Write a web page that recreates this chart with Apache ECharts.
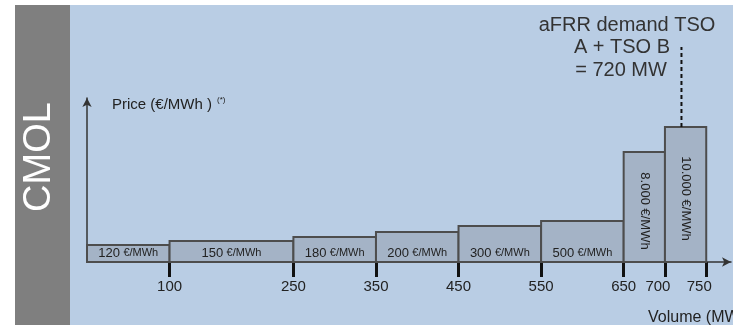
<!DOCTYPE html>
<html>
<head>
<meta charset="utf-8">
<script src="https://cdn.jsdelivr.net/npm/echarts@6/dist/echarts.min.js"></script>
<style>
html,body{margin:0;padding:0;background:#fff;}
#c{width:733px;height:325px;}
</style>
</head>
<body>
<div id="c"></div>
<script>
// ---- data ----
const volumeEdges = [0, 100, 250, 350, 450, 550, 650, 700, 750];   // MW
const priceLabels = ['120', '150', '180', '200', '300', '500', '8.000', '10.000']; // €/MWh
const barHeights = [17, 21, 25, 30, 36, 41, 110, 135];               // schematic heights
const tickValues = [100, 250, 350, 450, 550, 650, 700, 750];
const demandMW = 720;
const demandLineTop = 215;
const annotationLines = ['aFRR demand TSO', 'A + TSO B', '= 720 MW'];

const FONT = "'Liberation Sans', Arial, sans-serif";
const barData = priceLabels.map((p, i) => [volumeEdges[i], volumeEdges[i + 1], barHeights[i], i]);

function renderBar(params, api) {
  const x0 = api.value(0), x1 = api.value(1), h = api.value(2), idx = api.value(3);
  const p0 = api.coord([x0, h]);
  const p1 = api.coord([x1, 0]);
  const w = p1[0] - p0[0], hh = p1[1] - p0[1];
  const label = priceLabels[idx];
  const children = [{
    type: 'rect',
    shape: { x: p0[0], y: p0[1], width: w, height: hh },
    style: { fill: '#a4b3c6', stroke: '#4d4d4d', lineWidth: 2 }
  }];
  if (w < 60) {
    children.push({
      type: 'text',
      x: p0[0] + w / 2, y: p0[1] + hh / 2 + 4,
      rotation: -Math.PI / 2,
      style: { text: label + ' €/MWh', font: '13px ' + FONT, fill: '#222', align: 'center', verticalAlign: 'middle' }
    });
  } else {
    children.push({
      type: 'text',
      x: p0[0] + w / 2, y: p1[1] - 9,
      style: {
        text: '{a|' + label + '} {b|€/MWh}',
        align: 'center', verticalAlign: 'middle',
        rich: {
          a: { fontSize: 13, fontFamily: FONT, fill: '#222', color: '#222' },
          b: { fontSize: 11, fontFamily: FONT, fill: '#222', color: '#222' }
        }
      }
    });
  }
  return { type: 'group', children: children };
}

function renderDemand(params, api) {
  const a = api.coord([api.value(0), api.value(1)]);
  const b = api.coord([api.value(0), api.value(2)]);
  return {
    type: 'line',
    shape: { x1: a[0], y1: a[1], x2: b[0], y2: b[1] },
    style: { stroke: '#111', lineWidth: 2, lineDash: [4, 3] }
  };
}

const chart = echarts.init(document.getElementById('c'), null, { renderer: 'canvas' });
chart.setOption({
  animation: false,
  backgroundColor: '#ffffff',
  grid: { left: 87, right: 2, top: 98, bottom: 63, containLabel: false, outerBoundsMode: 'none' },
  xAxis: {
    type: 'value', min: 0, max: 780,
    splitLine: { show: false },
    axisLine: { lineStyle: { color: '#333', width: 1.5 }, symbol: ['none', 'arrow'], symbolSize: [7, 9] },
    axisTick: { customValues: tickValues, length: 15, lineStyle: { color: '#111', width: 3 } },
    axisLabel: {
      customValues: tickValues, margin: 17, fontSize: 15, fontFamily: FONT, color: '#222',
      formatter: v => (v === 700 || v === 750) ? '{s|' + v + '}' : '' + v,
      rich: { s: { fontSize: 15, fontFamily: FONT, color: '#222', padding: [0, 14, 0, 0] } }
    }
  },
  yAxis: {
    type: 'value', min: 0, max: 164,
    splitLine: { show: false },
    axisLine: { show: true, lineStyle: { color: '#333', width: 1.5 }, symbol: ['none', 'arrow'], symbolSize: [7, 9] },
    axisTick: { show: false },
    axisLabel: { show: false }
  },
  graphic: [
    { type: 'rect', z: -10, shape: { x: 70, y: 5, width: 663, height: 320 }, style: { fill: '#b9cde4' } },
    { type: 'rect', z: -10, shape: { x: 15, y: 5, width: 55, height: 320 }, style: { fill: '#7f7f7f' } },
    { type: 'text', x: 40, y: 157, rotation: Math.PI / 2,
      style: { text: 'CMOL', font: '38px ' + FONT, fill: '#ffffff', align: 'center', verticalAlign: 'middle' } },
    { type: 'text', x: 112, y: 105,
      style: { text: 'Price (€/MWh )', font: '15px ' + FONT, fill: '#222', align: 'left', verticalAlign: 'middle' } },
    { type: 'text', x: 217, y: 100,
      style: { text: '(*)', font: '8px ' + FONT, fill: '#222', align: 'left', verticalAlign: 'middle' } },
    { type: 'text', x: 648, y: 318,
      style: { text: 'Volume (MWh)', font: '16px ' + FONT, fill: '#222', align: 'left', verticalAlign: 'middle' } },
    { type: 'text', x: 627, y: 25,
      style: { text: annotationLines[0], font: '20px ' + FONT, fill: '#333', align: 'center', verticalAlign: 'middle' } },
    { type: 'text', x: 622, y: 47,
      style: { text: annotationLines[1], font: '20px ' + FONT, fill: '#333', align: 'center', verticalAlign: 'middle' } },
    { type: 'text', x: 621, y: 70,
      style: { text: annotationLines[2], font: '20px ' + FONT, fill: '#333', align: 'center', verticalAlign: 'middle' } }
  ],
  series: [
    { type: 'custom', renderItem: renderBar, data: barData, clip: false, z: 2 },
    { type: 'custom', renderItem: renderDemand, data: [[demandMW, barHeights[7], demandLineTop]], clip: false, z: 3 }
  ]
});
</script>
</body>
</html>
